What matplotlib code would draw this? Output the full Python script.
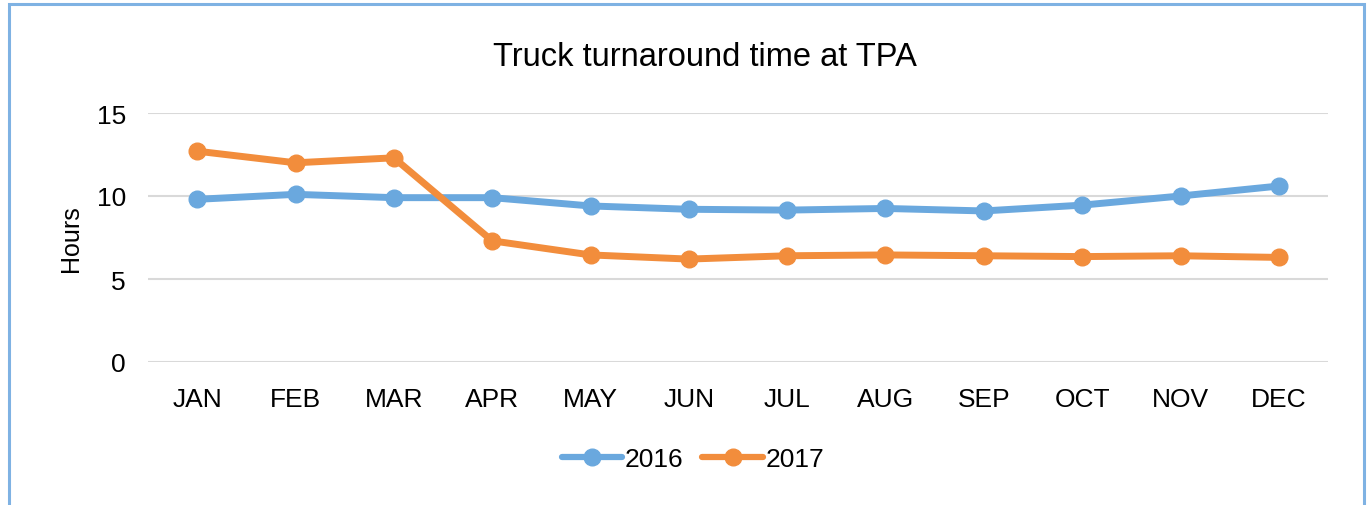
import matplotlib
matplotlib.use("Agg")
import matplotlib.pyplot as plt
from matplotlib.patches import Rectangle

plt.rcParams['font.family'] = ['Liberation Sans', 'DejaVu Sans']

# ----------------------------
# DATOS
# ----------------------------
meses = ["JAN", "FEB", "MAR", "APR", "MAY", "JUN",
         "JUL", "AUG", "SEP", "OCT", "NOV", "DEC"]
horas_2016 = [9.8, 10.1, 9.9, 9.9, 9.4, 9.2, 9.15, 9.25, 9.1, 9.45, 10.0, 10.6]
horas_2017 = [12.7, 12.0, 12.3, 7.3, 6.45, 6.2, 6.4, 6.45, 6.4, 6.35, 6.4, 6.3]

azul = "#6aa8de"
naranja = "#f28d3c"

# ----------------------------
# FIGURA
# ----------------------------
fig = plt.figure(figsize=(13.7, 5.06), dpi=100)
ax = fig.add_axes([148/1370, 1 - 363/506, 1180/1370, 249/506])

x = list(range(len(meses)))
ax.plot(x, horas_2016, '-o', color=azul, lw=5, markersize=12, label="2016",
        solid_capstyle='round')
ax.plot(x, horas_2017, '-o', color=naranja, lw=5, markersize=12, label="2017",
        solid_capstyle='round')

ax.set_xlim(-0.5, 11.5)
ax.set_ylim(0, 15)
ax.set_yticks([0, 5, 10, 15])
ax.set_xticks(x)
ax.set_xticklabels(meses)
ax.tick_params(length=0, labelsize=19)
ax.tick_params(axis='x', pad=18)
ax.tick_params(axis='y', pad=16)
ax.grid(axis='y', color='#d9d9d9', lw=1.5)
ax.set_axisbelow(True)
for s in ax.spines.values():
    s.set_visible(False)

ax.set_ylabel("Hours", fontsize=18, labelpad=10)
fig.text(705/1370, 1 - 57/506, "Truck turnaround time at TPA",
         ha='center', va='center', fontsize=23.5)

leg = fig.legend(loc='center', bbox_to_anchor=(693/1370, 1 - 460/506), ncol=2,
                 frameon=False, fontsize=19, handlelength=2.3,
                 columnspacing=0.7, handletextpad=0.1)
for h in leg.legend_handles:
    h.set_linewidth(4.5)

# borde azul del gráfico
fig.patches.append(Rectangle((9/1370, -0.05), 1355/1370, 1 - 5/506 + 0.05,
                             transform=fig.transFigure, fill=False,
                             edgecolor="#7fb2e3", lw=2.2))

fig.savefig("out.png", dpi=100)
